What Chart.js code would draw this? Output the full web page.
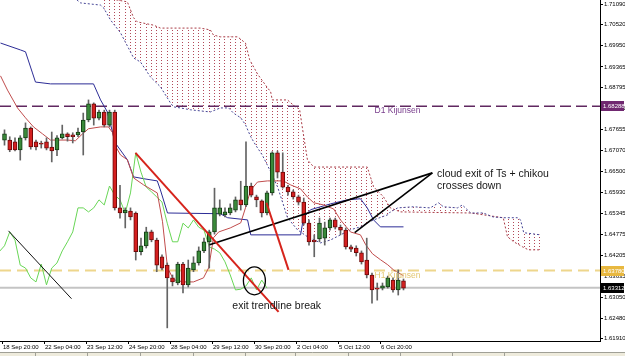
<!DOCTYPE html>
<html>
<head>
    <title>H4 Ichimoku chart</title>
    <style>
        body { margin: 0; background: #ffffff; }
        #wrap { width: 625px; height: 356px; }
    </style>
</head>
<body>
<div id="wrap"><canvas id="chart" width="625" height="356"></canvas></div>
<script src="https://cdn.jsdelivr.net/npm/chart.js"></script>
<script>
// H4 candles, index 0 = first visible bar
const opens = [1.6736,1.6736,1.6731,1.6709,1.6742,1.6769,1.6731,1.6728,1.6731,1.6717,
    1.6709,1.6742,1.6753,1.6750,1.6750,1.6758,1.6791,1.6835,1.6796,1.6813,
    1.6777,1.6813,1.6550,1.6536,1.6541,1.6536,1.6430,1.6446,1.6484,1.6462,
    1.6416,1.6393,1.6358,1.6344,1.6396,1.6339,1.6380,1.6399,1.6432,1.6457,
    1.6484,1.6533,1.6531,1.6536,1.6544,1.6572,1.6558,1.6610,1.6580,1.6569,
    1.6536,1.6591,1.6701,1.6648,1.6607,1.6594,1.6580,1.6566,1.6508,1.6462,
    1.6465,1.6467,1.6495,1.6517,1.6497,1.6489,1.6443,1.6440,1.6427,1.6407,
    1.6366,1.6330,1.6330,1.6333,1.6352,1.6325,1.6350];
const highs = [1.6764,1.6745,1.6742,1.6748,1.6783,1.6772,1.6736,1.6733,1.6742,1.6758,
    1.6748,1.6777,1.6756,1.6756,1.6769,1.6810,1.6846,1.6838,1.6818,1.6818,
    1.6818,1.6818,1.6612,1.6550,1.6550,1.6539,1.6467,1.6497,1.6489,1.6467,
    1.6421,1.6399,1.6366,1.6401,1.6401,1.6407,1.6416,1.6443,1.6467,1.6489,
    1.6604,1.6572,1.6550,1.6561,1.6580,1.6623,1.6731,1.6618,1.6585,1.6572,
    1.6596,1.6704,1.6706,1.6701,1.6612,1.6599,1.6585,1.6577,1.6517,1.6476,
    1.6522,1.6511,1.6522,1.6522,1.6503,1.6495,1.6448,1.6446,1.6432,1.6467,
    1.6371,1.6344,1.6344,1.6363,1.6358,1.6380,1.6355];
const lows = [1.6722,1.6704,1.6706,1.6681,1.6736,1.6711,1.6709,1.6714,1.6709,1.6676,
    1.6693,1.6739,1.6733,1.6728,1.6745,1.6695,1.6786,1.6777,1.6791,1.6772,
    1.6772,1.6544,1.6522,1.6495,1.6517,1.6407,1.6421,1.6440,1.6457,1.6375,
    1.6380,1.6221,1.6336,1.6339,1.6317,1.6333,1.6375,1.6393,1.6427,1.6385,
    1.6478,1.6528,1.6525,1.6531,1.6539,1.6544,1.6553,1.6580,1.6553,1.6525,
    1.6531,1.6585,1.6632,1.6604,1.6585,1.6574,1.6558,1.6503,1.6448,1.6416,
    1.6457,1.6448,1.6489,1.6492,1.6476,1.6437,1.6430,1.6418,1.6396,1.6358,
    1.6289,1.6297,1.6325,1.6330,1.6319,1.6311,1.6325];
const closes = [1.6753,1.6709,1.6709,1.6742,1.6769,1.6717,1.6717,1.6725,1.6714,1.6706,
    1.6742,1.6753,1.6745,1.6745,1.6758,1.6791,1.6835,1.6796,1.6813,1.6777,
    1.6813,1.6550,1.6536,1.6544,1.6525,1.6430,1.6446,1.6484,1.6462,1.6393,
    1.6385,1.6358,1.6347,1.6396,1.6339,1.6385,1.6399,1.6432,1.6457,1.6484,
    1.6550,1.6550,1.6539,1.6550,1.6572,1.6558,1.6610,1.6585,1.6572,1.6536,
    1.6591,1.6701,1.6648,1.6607,1.6594,1.6580,1.6566,1.6508,1.6457,1.6457,
    1.6508,1.6495,1.6517,1.6497,1.6489,1.6443,1.6437,1.6427,1.6402,1.6366,
    1.6325,1.6327,1.6336,1.6358,1.6325,1.6352,1.6330];

// ichimoku lines as [bar index, price]
const tenkan = [[-0.76,1.6912],[0.57,1.6873],[2.48,1.6824],[4.0,1.6797],[5.52,1.6772],[7.24,1.6753],
    [8.76,1.6736],[12.0,1.6736],[13.5,1.6734],[14.86,1.6753],[16.0,1.6767],[18.3,1.6772],[19.8,1.6772],
    [20.6,1.6756],[21.1,1.6720],[22.1,1.6695],[23.4,1.6682],[24.6,1.6632],[26.5,1.6613],[29.1,1.6591],
    [30.1,1.6512],[31.05,1.6386],[32.2,1.6353],[34.1,1.6347],[36.0,1.6347],[37.9,1.6358],[38.9,1.6386],
    [39.8,1.6468],[40.8,1.6484],[43.0,1.6495],[45.0,1.6509],[45.9,1.6550],[46.9,1.6599],[48.2,1.6621],
    [50.1,1.6624],[53.1,1.6624],[54.5,1.6613],[56.4,1.6602],[57.7,1.6580],[58.9,1.6564],[60.8,1.6558],
    [62.7,1.6547],[64.0,1.6517],[65.9,1.6484],[67.8,1.6476],[68.8,1.6449],[70.1,1.6424],[71.6,1.6408],
    [73.0,1.6394],[74.1,1.6380],[76.0,1.6364]];
const kijun = [[-0.76,1.7002],[3.05,1.6983],[4.0,1.6978],[5.33,1.6920],[5.9,1.6895],[8.76,1.6890],
    [16.95,1.6890],[18.3,1.6846],[19.6,1.6813],[21.1,1.6728],[23.4,1.6682],[24.6,1.6635],[26.5,1.6630],
    [29.1,1.6624],[29.7,1.6599],[31.05,1.6536],[41.1,1.6534],[42.5,1.6523],[46.3,1.6517],[46.9,1.6476],
    [56.4,1.6476],[56.95,1.6523],[58.3,1.6545],[62.1,1.6561],[65.3,1.6572],[67.8,1.6575],[69.1,1.6550],
    [70.3,1.6517],[71.6,1.6498],[76.0,1.6498]];
const spanA = [[18.3,1.7128],[23.4,1.7115],[24.6,1.7071],[25.3,1.7060],[28.4,1.7051],[29.7,1.7043],
    [37.3,1.7043],[39.2,1.7038],[39.8,1.7024],[41.1,1.7019],[44.4,1.7019],[45.9,1.7002],[46.7,1.6956],
    [48.2,1.6917],[49.7,1.6887],[50.7,1.6868],[51.0,1.6846],[53.9,1.6846],[55.4,1.6827],[56.2,1.6821],
    [56.8,1.6764],[57.7,1.6682],[58.9,1.6662],[69.1,1.6662],[69.7,1.6635],[70.3,1.6608],[72.2,1.6580],
    [73.5,1.6550],[75.4,1.6539],[88.8,1.6536],[95.0,1.6523],[95.8,1.6471],[97.0,1.6457],[98.7,1.6443],
    [99.8,1.6435],[102.1,1.6435]];
const spanB = [[12.6,1.7134],[14.5,1.7112],[18.3,1.7106],[18.9,1.7098],[20.2,1.7065],[22.1,1.7030],
    [24.6,1.6961],[25.9,1.6950],[27.8,1.6909],[29.7,1.6882],[31.6,1.6838],[32.2,1.6827],[33.5,1.6824],
    [35.4,1.6819],[39.2,1.6813],[41.1,1.6824],[42.7,1.6824],[43.6,1.6810],[45.0,1.6797],[45.9,1.6778],
    [46.9,1.6745],[47.8,1.6723],[49.1,1.6695],[50.7,1.6649],[52.0,1.6608],[53.0,1.6564],[53.9,1.6523],
    [55.8,1.6490],[57.7,1.6471],[60.2,1.6454],[62.1,1.6462],[64.0,1.6476],[65.9,1.6490],[67.8,1.6498],
    [69.1,1.6509],[70.3,1.6517],[73.0,1.6531],[73.5,1.6539],[74.9,1.6550],[77.9,1.6553],[81.1,1.6550],
    [82.7,1.6564],[83.6,1.6553],[86.3,1.6550],[87.2,1.6558],[88.8,1.6536],[91.2,1.6536],[93.1,1.6525],
    [95.0,1.6523],[97.7,1.6523],[98.3,1.6517],[98.9,1.6482],[102.1,1.6476]];
const chikouShift = 26;

// horizontal levels
const levelD1 = 1.68288;
const levelH1 = 1.63780;
const bidLevel = 1.63312;

// hand drawn trend lines, [index, price] pairs
const trendThin = [[0.76,1.6487],[12.76,1.6301]];
const trendRedA = [[24.95,1.6701],[52.2,1.6265]];
const trendRedB = [[49.9,1.6564],[54.1,1.6380]];
const trendBlackC = [[39.05,1.6449],[81.5,1.6646]];
const trendBlackD = [[66.7,1.6482],[81.5,1.6646]];
const circleAt = [47.6, 1.6350];

const xTickIdx = [-0.3,7.7,15.7,23.7,31.7,39.7,47.7,55.7,63.7,71.7];
const xTickLabels = ['18 Sep 20:00','22 Sep 04:00','23 Sep 12:00','24 Sep 20:00','28 Sep 04:00',
    '29 Sep 12:00','30 Sep 20:00','2 Oct 04:00','5 Oct 12:00','6 Oct 20:00'];
const yTicks = [1.71090,1.70520,1.69950,1.69365,1.68795,1.68225,1.67655,1.67070,1.66500,1.65930,
    1.65345,1.64775,1.64205,1.63635,1.63050,1.62480,1.61910];

const notes = [
    {text: 'exit trendline break', at: [43.4, 1.6282], color: '#161616', size: 10.5},
    {text: 'cloud exit of Ts + chikou', at: [82.4, 1.6643], color: '#161616', size: 10.5},
    {text: 'crosses down', at: [82.4, 1.6610], color: '#161616', size: 10.5},
    {text: 'D1 Kijunsen', at: [70.5, 1.6816], color: 'rgb(120,60,140)', size: 8.5},
    {text: 'H1 Kijunsen', at: [70.5, 1.6364], color: 'rgb(226,198,112)', size: 8.5}
];
const axisBoxes = [
    [levelD1, 'rgb(112,40,112)'],
    [levelH1, 'rgb(232,184,64)'],
    [bidLevel, '#000000']
];

const FONT = '"Liberation Sans", Arial, sans-serif';
const xMin = -0.857, xMax = 113.43;
const yMin = 1.6185, yMax = 1.7120;

const pts = arr => arr.map(p => ({x: p[0], y: p[1]}));
const flat = v => [{x: xMin, y: v}, {x: xMax, y: v}];

const canvas = document.getElementById('chart');
const ctx = canvas.getContext('2d');

// dotted vertical hatch for the cloud, one column per bar
const tile = document.createElement('canvas');
tile.width = 21; tile.height = 3;
const tg = tile.getContext('2d');
tg.fillStyle = 'rgb(178,72,88)';
[4, 9, 14, 20].forEach(c => tg.fillRect(c, 0, 1, 1));
const cloudFill = ctx.createPattern(tile, 'repeat');

const up = 'rgb(58,138,58)', down = 'rgb(212,32,32)';

const chikou = closes.slice(chikouShift - 1).map((c, k) => ({x: k - 1, y: c}));

const overlay = {
    id: 'overlay',
    afterDraw(chart) {
        const c = chart.ctx, xs = chart.scales.x, ys = chart.scales.y;
        const area = chart.chartArea;
        c.save();
        c.beginPath();
        c.rect(area.left, area.top, area.right - area.left, area.bottom - area.top);
        c.clip();
        c.strokeStyle = '#000';
        c.lineWidth = 1.3;
        c.beginPath();
        c.ellipse(xs.getPixelForValue(circleAt[0]), ys.getPixelForValue(circleAt[1]), 11, 14, 0, 0, Math.PI * 2);
        c.stroke();
        c.textBaseline = 'middle';
        c.textAlign = 'left';
        notes.forEach(n => {
            c.font = n.size + 'px ' + FONT;
            c.fillStyle = n.color;
            c.fillText(n.text, xs.getPixelForValue(n.at[0]), ys.getPixelForValue(n.at[1]));
        });
        c.restore();

        // price boxes on the axis
        c.save();
        c.font = '6px ' + FONT;
        c.textBaseline = 'middle';
        axisBoxes.forEach(b => {
            const y = Math.round(ys.getPixelForValue(b[0]));
            c.fillStyle = b[1];
            c.fillRect(area.right + 1, y - 5, 23, 10);
            c.fillStyle = '#fff';
            c.fillText(b[0].toFixed(5), area.right + 3, y);
        });

        // tab strip at the bottom
        c.fillStyle = 'rgb(238,235,220)';
        c.fillRect(0, 352, 625, 4);
        c.strokeStyle = 'rgb(160,160,150)';
        c.lineWidth = 1;
        c.beginPath();
        c.moveTo(0, 352.5); c.lineTo(625, 352.5);
        [35, 87, 140, 193, 245, 295, 348, 400, 452, 504].forEach(x => {
            c.moveTo(x + 0.5, 353); c.lineTo(x + 0.5, 356);
        });
        c.stroke();
        c.restore();
    }
};

new Chart(ctx, {
    type: 'bar',
    data: {
        datasets: [
            {type: 'line', data: pts(spanA), borderColor: 'rgb(170,60,70)', borderWidth: 1,
                borderDash: [2, 2], pointRadius: 0, fill: false, order: 10},
            {type: 'line', data: pts(spanB), borderColor: 'rgb(70,70,150)', borderWidth: 1,
                borderDash: [2, 2], pointRadius: 0, fill: '-1', backgroundColor: cloudFill, order: 9},
            {type: 'line', data: flat(bidLevel), borderColor: 'rgb(196,196,196)', borderWidth: 2,
                pointRadius: 0, order: 8},
            {type: 'line', data: flat(levelH1), borderColor: 'rgb(238,214,140)', borderWidth: 2,
                borderDash: [11, 6], pointRadius: 0, order: 8},
            {type: 'line', data: flat(levelD1), borderColor: 'rgb(96,40,96)', borderWidth: 1.5,
                borderDash: [11, 5], pointRadius: 0, order: 8},
            {type: 'line', data: chikou, borderColor: 'rgb(104,214,86)', borderWidth: 1,
                pointRadius: 0, order: 6},
            {type: 'line', data: pts(kijun), borderColor: 'rgb(44,44,150)', borderWidth: 1,
                pointRadius: 0, order: 6},
            {type: 'line', data: pts(tenkan), borderColor: 'rgb(192,76,76)', borderWidth: 1,
                pointRadius: 0, order: 5},
            {data: lows.map((l, i) => ({x: i, y: [l, highs[i]]})), backgroundColor: 'rgb(100,100,100)',
                barThickness: 1, grouped: false, order: 4},
            {data: opens.map((o, i) => ({x: i, y: [o, closes[i]]})),
                backgroundColor: opens.map((o, i) => closes[i] >= o ? up : down),
                borderColor: opens.map((o, i) => closes[i] >= o ? 'rgb(20,60,20)' : 'rgb(110,10,10)'),
                borderWidth: 1, borderSkipped: false, barThickness: 4, minBarLength: 1,
                grouped: false, order: 3},
            {type: 'line', data: pts(trendThin), borderColor: '#111', borderWidth: 1, pointRadius: 0, order: 1},
            {type: 'line', data: pts(trendRedA), borderColor: 'rgb(214,36,28)', borderWidth: 2, pointRadius: 0, order: 1},
            {type: 'line', data: pts(trendRedB), borderColor: 'rgb(214,36,28)', borderWidth: 2, pointRadius: 0, order: 1},
            {type: 'line', data: pts(trendBlackC), borderColor: '#000', borderWidth: 1.6, pointRadius: 0, order: 1},
            {type: 'line', data: pts(trendBlackD), borderColor: '#000', borderWidth: 1.6, pointRadius: 0, order: 1}
        ]
    },
    options: {
        responsive: false,
        animation: false,
        layout: {padding: 0},
        plugins: {legend: {display: false}, tooltip: {enabled: false}},
        elements: {line: {tension: 0}},
        scales: {
            x: {
                type: 'linear', min: xMin, max: xMax, offset: false,
                grid: {drawOnChartArea: false, tickLength: 3, color: '#000', offset: false},
                border: {color: '#000', width: 1},
                ticks: {autoSkip: false, maxRotation: 0, align: 'start', padding: 0, color: '#000',
                    font: {size: 6, family: FONT}, callback: (v, i) => xTickLabels[i]},
                afterBuildTicks: s => { s.ticks = xTickIdx.map(v => ({value: v})); },
                afterFit: s => { s.height = 15; s.paddingLeft = 0; s.paddingRight = 0; }
            },
            y: {
                position: 'right', min: yMin, max: yMax, beginAtZero: false,
                grid: {drawOnChartArea: false, tickLength: 3, color: '#000'},
                border: {color: '#000', width: 1},
                ticks: {autoSkip: false, padding: 1, color: '#000',
                    font: {size: 6, family: FONT}, callback: v => v.toFixed(5)},
                afterBuildTicks: s => { s.ticks = yTicks.map(v => ({value: v})); },
                afterFit: s => { s.width = 25; s.paddingTop = 0; s.paddingBottom = 0; }
            }
        }
    },
    plugins: [overlay]
});
</script>
</body>
</html>
